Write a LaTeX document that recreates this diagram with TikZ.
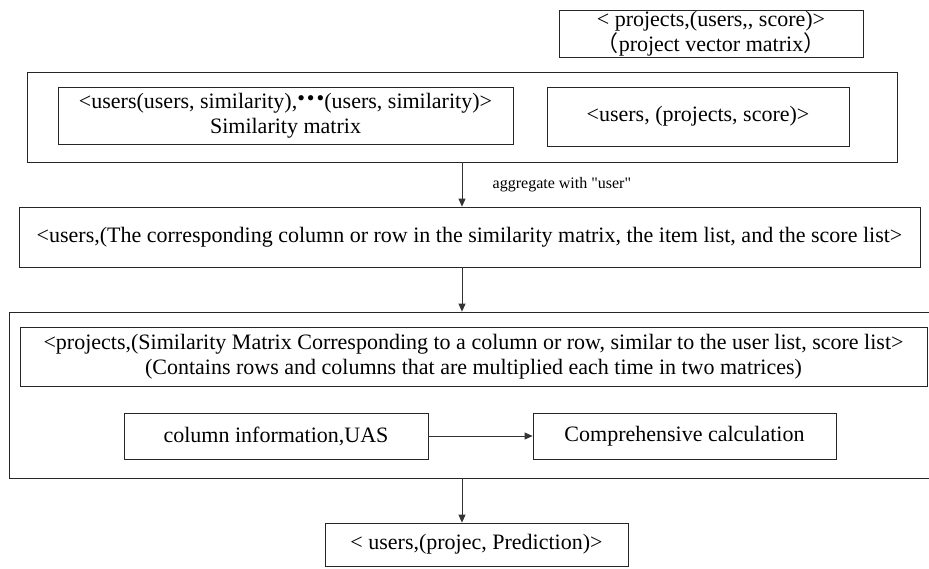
\documentclass[tikz,border=0pt]{standalone}
\usepackage{fontspec}
\setmainfont{Liberation Serif}[Ligatures=TeXOff]
\newfontfamily\cjk{Noto Sans CJK SC}
\usetikzlibrary{arrows.meta}
\newcommand{\txtsize}{\fontsize{22}{25}\selectfont}
\newcommand{\lblsize}{\fontsize{16}{18}\selectfont}
\newcommand{\simdots}{\raisebox{3pt}{\fontsize{22}{22}\selectfont\textbullet\hspace{2pt}\textbullet\hspace{2pt}\textbullet}}
\tikzset{
  box/.style={draw=black!85,line width=.8pt,align=center,inner sep=0pt,font=\txtsize},
  arr/.style={draw=black!80,line width=.8pt,-{Triangle[length=8pt,width=7pt]}}
}
\begin{document}
\begin{tikzpicture}[x=1pt,y=-1pt]
        \useasboundingbox (0,0) rectangle (929,568);
        \clip (0,0) rectangle (929,568);
        %% Project vector matrix
        \node[box,minimum width=304,minimum height=47] (pvm) at (711,33.5) {< projects,(users,, score)>\\{\cjk （}project vector matrix{\cjk ）}};
        %% First group
        \node[box,minimum width=870,minimum height=90] (outer1) at (462,117) {};
        \node[box,minimum width=455,minimum height=57] (simm) at (285.5,115.5) {<users(users, similarity),\simdots(users, similarity)>\\Similarity matrix};
        \node[box,minimum width=302,minimum height=59] (usc) at (698,116.5) {<users, (projects, score)>};
        %% Aggregation
        \node[box,minimum width=901,minimum height=60] (agg) at (469.5,237) {<users,(The corresponding column or row in the similarity matrix, the item list, and the score list>};
        \draw[arr] (outer1.south) -- node[midway,right=27pt,font=\lblsize] (agglbl) {aggregate with "user"} (outer1.south |- agg.north);
        %% Second group
        \node[box,minimum width=931,minimum height=166] (outer3) at (474.5,395) {};
        \node[box,minimum width=907,minimum height=59] (rowcol) at (473.5,356.5) {<projects,(Similarity Matrix Corresponding to a column or row, similar to the user list, score list>\\(Contains rows and columns that are multiplied each time in two matrices)};
        \node[box,minimum width=304,minimum height=46] (colinfo) at (276,436) {column information,UAS};
        \node[box,minimum width=303,minimum height=46] (calc) at (684.5,436) {Comprehensive calculation};
        \draw[arr] (colinfo.east) -- (calc.west);
        \draw[arr] (agg.south -| outer1.south) -- (outer1.south |- outer3.north);
        %% Prediction
        \node[box,minimum width=303,minimum height=43] (pred) at (476.5,544.5) {< users,(projec, Prediction)>};
        \draw[arr] (outer3.south -| outer1.south) -- (outer1.south |- pred.north);
    \end{tikzpicture}
\end{document}
